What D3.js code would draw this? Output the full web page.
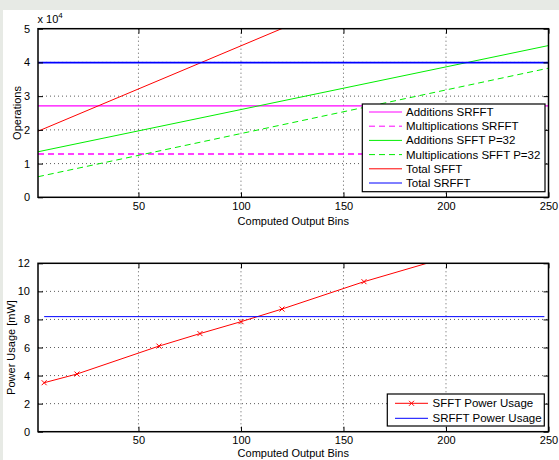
<!DOCTYPE html>
<html><head><meta charset="utf-8">
<script src="https://cdn.jsdelivr.net/npm/d3@7"></script>
<style>
body{margin:0;background:#fff;}
text{font-family:"Liberation Sans",Arial,Helvetica,sans-serif;font-size:11px;fill:#000;}
</style></head>
<body><svg id="c" width="559" height="460"></svg>
<script>
// ---- data ----
const opBins = [1, 250];
const addSRFFT = [27100, 27100];
const mulSRFFT = [12850, 12850];
const addSFFT = [13500, 45000];
const mulSFFT = [6100, 38300];
const totalSFFT = [19600, 83300];
const totalSRFFT = [39950, 39950];
const opYTicks = [0, 10000, 20000, 30000, 40000, 50000];
const xTicks = [50, 100, 150, 200, 250];

const powerBins = [4, 20, 60, 80, 100, 120, 160, 200];
const sfftPower = [3.49, 4.11, 6.1, 6.99, 7.84, 8.74, 10.69, 12.4];
const srfftPowerBins = [4, 248];
const srfftPower = [8.2, 8.2];
const powYTicks = [0, 2, 4, 6, 8, 10, 12];

const opSeries = [
  {name:"Additions SRFFT", x:opBins, y:addSRFFT, color:"#ff00ff", dash:null},
  {name:"Multiplications SRFFT", x:opBins, y:mulSRFFT, color:"#ff00ff", dash:"6,4"},
  {name:"Additions SFFT P=32", x:opBins, y:addSFFT, color:"#00ee00", dash:null},
  {name:"Multiplications SFFT P=32", x:opBins, y:mulSFFT, color:"#00ee00", dash:"6,4"},
  {name:"Total SFFT", x:opBins, y:totalSFFT, color:"#ff0000", dash:null},
  {name:"Total SRFFT", x:opBins, y:totalSRFFT, color:"#0000ff", dash:null}
];
const powSeries = [
  {name:"SFFT Power Usage", x:powerBins, y:sfftPower, color:"#ff0000", marker:true},
  {name:"SRFFT Power Usage", x:srfftPowerBins, y:srfftPower, color:"#0000ff", marker:false}
];

const svg = d3.select("#c");
// light frame background
svg.append("rect").attr("x",0).attr("y",0).attr("width",559).attr("height",10).attr("fill","#e7eae5");
svg.append("rect").attr("x",0).attr("y",0).attr("width",3).attr("height",460).attr("fill","#e7eae5");

const L = 38, R = 548.5;
const x = d3.scaleLinear().domain([1,250]).range([L,R]);

function panel(id, top, bottom, yDomain, yTicks, yFmt, yLabel, yLabelX, xLabelOff, series, legend){
  const y = d3.scaleLinear().domain(yDomain).range([bottom, top]);
  const g = svg.append("g");
  g.append("clipPath").attr("id","clip"+id).append("rect")
    .attr("x",L).attr("y",top).attr("width",R-L).attr("height",bottom-top);
  // grid
  g.append("g").selectAll("line").data(xTicks.filter(t=>t<250)).join("line")
    .attr("x1",d=>x(d)).attr("x2",d=>x(d)).attr("y1",top).attr("y2",bottom)
    .attr("stroke","#333").attr("stroke-width",0.8).attr("stroke-dasharray","1,3");
  g.append("g").selectAll("line").data(yTicks.slice(1,-1)).join("line")
    .attr("x1",L).attr("x2",R).attr("y1",d=>y(d)).attr("y2",d=>y(d))
    .attr("stroke","#333").attr("stroke-width",0.8).attr("stroke-dasharray","1,3");
  // lines
  const line = d3.line().x(d=>x(d[0])).y(d=>y(d[1]));
  const lg = g.append("g").attr("clip-path","url(#clip"+id+")");
  series.forEach(s=>{
    const pts = s.x.map((v,i)=>[v,s.y[i]]);
    lg.append("path").attr("d",line(pts)).attr("fill","none")
      .attr("stroke",s.color).attr("stroke-width",s.name==="Total SRFFT"?1.6:(s.color==="#ff00ff"?1.4:1))
      .attr("stroke-dasharray",s.dash);
    if(s.marker){
      pts.forEach(p=>{
        const cx=x(p[0]), cy=y(p[1]);
        if(cy<top) return;
        lg.append("path").attr("d",`M${cx-2.5},${cy-2.5}L${cx+2.5},${cy+2.5}M${cx-2.5},${cy+2.5}L${cx+2.5},${cy-2.5}`)
          .attr("stroke",s.color).attr("stroke-width",1);
      });
    }
  });
  // axes (matlab-like: ticks inside, on all sides)
  const ax = g.append("g");
  ax.append("g").attr("transform",`translate(0,${bottom})`)
    .call(d3.axisBottom(x).tickValues(xTicks).tickSize(-5).tickPadding(5))
    .call(a=>{a.select(".domain").remove();a.selectAll("text").attr("dy","0.71em").style("font-size","11px");});
  ax.append("g").attr("transform",`translate(0,${top})`)
    .call(d3.axisTop(x).tickValues(xTicks).tickSize(-5).tickFormat(""))
    .call(a=>a.select(".domain").remove());
  ax.append("g").attr("transform",`translate(${L},0)`)
    .call(d3.axisLeft(y).tickValues(yTicks).tickSize(-5).tickPadding(8).tickFormat(yFmt))
    .call(a=>{a.select(".domain").remove();a.selectAll("text").style("font-size","11px");});
  ax.append("g").attr("transform",`translate(${R},0)`)
    .call(d3.axisRight(y).tickValues(yTicks).tickSize(-5).tickFormat(""))
    .call(a=>a.select(".domain").remove());
  ax.selectAll(".tick line").attr("stroke","#000");
  g.append("rect").attr("x",L).attr("y",top).attr("width",R-L).attr("height",bottom-top)
    .attr("fill","none").attr("stroke","#000").attr("stroke-width",1.5);
  // labels
  g.append("text").attr("x",(L+R)/2).attr("y",bottom+xLabelOff).attr("text-anchor","middle").text("Computed Output Bins");
  g.append("text").attr("transform",`translate(${yLabelX},${(top+bottom)/2}) rotate(-90)`)
    .attr("text-anchor","middle").attr("dy","0.35em").text(yLabel);
  // legend
  const lgd = g.append("g");
  lgd.append("rect").attr("x",legend.x0).attr("y",legend.y0).attr("width",legend.x1-legend.x0)
    .attr("height",legend.y1-legend.y0).attr("fill","#fff").attr("stroke","#000").attr("stroke-width",1.2);
  series.forEach((s,i)=>{
    const yy = legend.first + i*legend.step;
    lgd.append("line").attr("x1",legend.lx0).attr("x2",legend.lx1).attr("y1",yy).attr("y2",yy)
      .attr("stroke",s.color).attr("stroke-width",1).attr("stroke-dasharray",s.dash||null);
    if(s.marker){
      const cx=(legend.lx0+legend.lx1)/2;
      lgd.append("path").attr("d",`M${cx-2.5},${yy-2.5}L${cx+2.5},${yy+2.5}M${cx-2.5},${yy+2.5}L${cx+2.5},${yy-2.5}`)
        .attr("stroke",s.color);
    }
    lgd.append("text").attr("x",legend.tx).attr("y",yy).attr("dy","0.35em").style("font-size","11.5px").text(s.name);
  });
  return y;
}

panel("a", 28.7, 197.3, [0,50000], opYTicks, d=>d/10000, "Operations", 17, 28, opSeries,
  {x0:362.3,x1:545,y0:104,y1:191.7,first:112,step:14.2,lx0:369,lx1:402,tx:406});
panel("b", 263.3, 431.7, [0,12], powYTicks, d=>d, "Power Usage [mW]", 11, 25.5, powSeries,
  {x0:387.3,x1:544.3,y0:394,y1:426,first:403.3,step:15,lx0:395,lx1:428,tx:432.5});

// exponent label
const ex = svg.append("text").attr("x",37.5).attr("y",23);
ex.append("tspan").text("x 10");
ex.append("tspan").attr("dy",-5).style("font-size","8px").text("4");
</script></body></html>
